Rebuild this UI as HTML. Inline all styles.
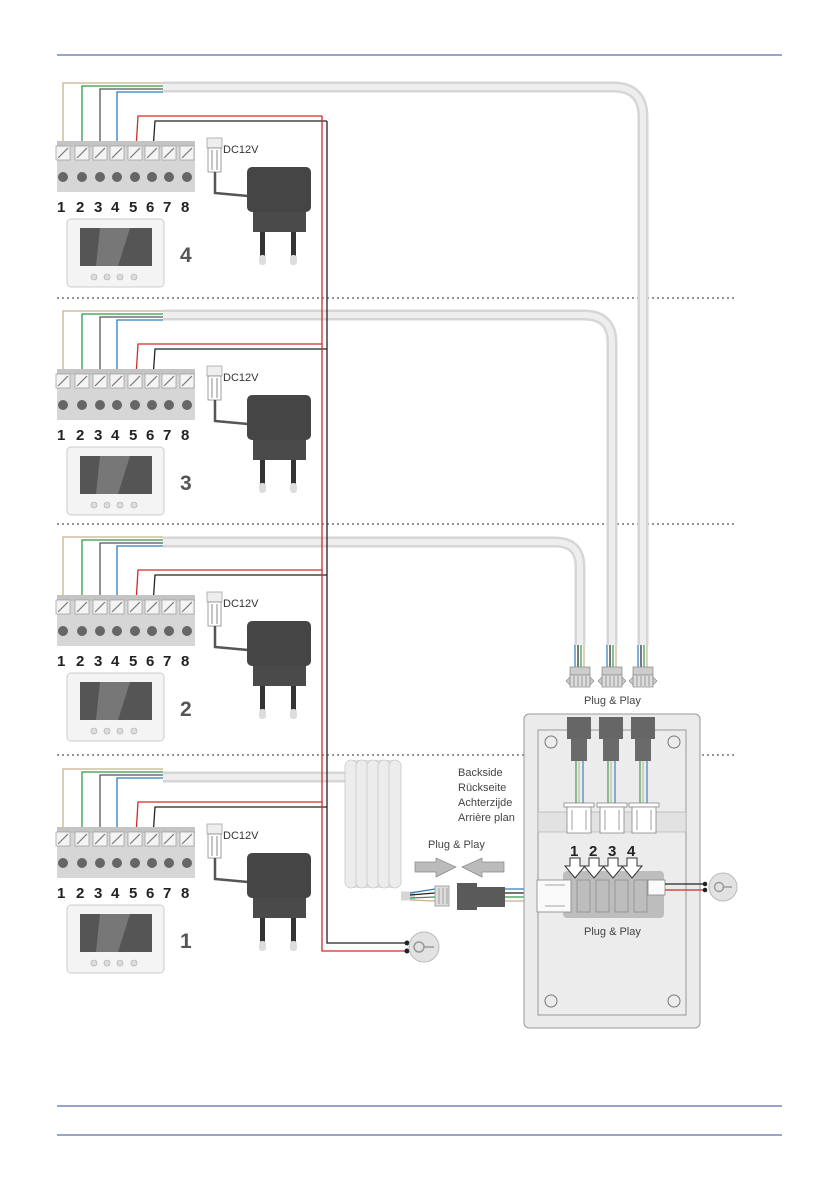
<!DOCTYPE html>
<html><head><meta charset="utf-8"><style>
html,body{margin:0;padding:0;background:#fff}
svg{display:block}
text{font-family:"Liberation Sans",sans-serif}
</style></head><body>
<svg width="839" height="1191" viewBox="0 0 839 1191" xmlns="http://www.w3.org/2000/svg">
<defs>
<g id="sec">
  <polyline points="63,160 63,83 163,83" fill="none" stroke="#c9b18f" stroke-width="1.3"/>
  <polyline points="82,160 82,86 163,86" fill="none" stroke="#2e9a4a" stroke-width="1.3"/>
  <polyline points="100,160 100,89 163,89" fill="none" stroke="#555" stroke-width="1.3"/>
  <polyline points="117,160 117,92 163,92" fill="none" stroke="#2a7cc0" stroke-width="1.3"/>
  <polyline points="135,165 138,116 322,116" fill="none" stroke="#d42a2a" stroke-width="1.3"/>
  <polyline points="152,165 155,121 327,121" fill="none" stroke="#222" stroke-width="1.3"/>
  <rect x="57" y="141" width="138" height="51" fill="#d6d6d6"/>
  <rect x="57" y="141" width="138" height="6" fill="#c4c4c4"/>
  <g fill="#f4f4f4" stroke="#999" stroke-width="0.7">
    <rect x="56" y="146" width="14" height="14"/><rect x="75" y="146" width="14" height="14"/>
    <rect x="93" y="146" width="14" height="14"/><rect x="110" y="146" width="14" height="14"/>
    <rect x="128" y="146" width="14" height="14"/><rect x="145" y="146" width="14" height="14"/>
    <rect x="162" y="146" width="14" height="14"/><rect x="180" y="146" width="14" height="14"/>
  </g>
  <g stroke="#777" stroke-width="1.2">
    <line x1="58" y1="158" x2="68" y2="148"/><line x1="77" y1="158" x2="87" y2="148"/>
    <line x1="95" y1="158" x2="105" y2="148"/><line x1="112" y1="158" x2="122" y2="148"/>
    <line x1="130" y1="158" x2="140" y2="148"/><line x1="147" y1="158" x2="157" y2="148"/>
    <line x1="164" y1="158" x2="174" y2="148"/><line x1="182" y1="158" x2="192" y2="148"/>
  </g>
  <g fill="#666">
    <circle cx="63" cy="177" r="5"/><circle cx="82" cy="177" r="5"/><circle cx="100" cy="177" r="5"/>
    <circle cx="117" cy="177" r="5"/><circle cx="135" cy="177" r="5"/><circle cx="152" cy="177" r="5"/>
    <circle cx="169" cy="177" r="5"/><circle cx="187" cy="177" r="5"/>
  </g>
  <g font-size="15" font-weight="bold" fill="#222">
    <text x="57" y="212">1</text><text x="76" y="212">2</text><text x="94" y="212">3</text>
    <text x="111" y="212">4</text><text x="129" y="212">5</text><text x="146" y="212">6</text>
    <text x="163" y="212">7</text><text x="181" y="212">8</text>
  </g>
  <rect x="67" y="219" width="97" height="68" rx="4" fill="#f4f4f4" stroke="#ccc"/>
  <rect x="80" y="228" width="72" height="38" fill="#555"/>
  <polygon points="100,228 130,228 118,266 96,266" fill="#777"/>
  <g fill="#ddd" stroke="#aaa" stroke-width="0.6">
    <circle cx="94" cy="277" r="3"/><circle cx="107" cy="277" r="3"/><circle cx="120" cy="277" r="3"/><circle cx="134" cy="277" r="3"/>
  </g>
  <rect x="207" y="138" width="15" height="10" fill="#eee" stroke="#999" stroke-width="0.7"/>
  <rect x="208" y="148" width="13" height="24" fill="#fff" stroke="#888" stroke-width="0.8"/>
  <line x1="212" y1="150" x2="212" y2="170" stroke="#888"/><line x1="217" y1="150" x2="217" y2="170" stroke="#888"/>
  <text x="223" y="153" font-size="11" fill="#333">DC12V</text>
  <polyline points="215,172 215,193 248,196" fill="none" stroke="#555" stroke-width="2.5"/>
  <rect x="247" y="167" width="64" height="45" rx="5" fill="#454545"/>
  <rect x="253" y="212" width="53" height="20" fill="#4a4a4a"/>
  <rect x="260" y="232" width="5" height="28" fill="#333"/><rect x="291" y="232" width="5" height="28" fill="#333"/>
  <rect x="259" y="255" width="7" height="10" rx="3" fill="#ddd"/><rect x="290" y="255" width="7" height="10" rx="3" fill="#ddd"/>
</g>
<g id="plug">
  <line x1="-5" y1="-22" x2="-5" y2="0" stroke="#2a7cc0" stroke-width="1.2"/>
  <line x1="-2" y1="-22" x2="-2" y2="0" stroke="#222" stroke-width="1.2"/>
  <line x1="1" y1="-22" x2="1" y2="0" stroke="#2e9a4a" stroke-width="1.2"/>
  <line x1="4" y1="-22" x2="4" y2="0" stroke="#c9b18f" stroke-width="1.2"/>
  <rect x="-10" y="0" width="20" height="8" fill="#ccc" stroke="#888" stroke-width="0.7"/>
  <rect x="-10" y="8" width="20" height="12" fill="#ddd" stroke="#888" stroke-width="0.7"/>
  <path d="M-6,9v10M-2,9v10M2,9v10M6,9v10" stroke="#888" stroke-width="0.8"/>
  <polygon points="-10,10 -14,14 -10,18" fill="#ccc" stroke="#888" stroke-width="0.6"/>
  <polygon points="10,10 14,14 10,18" fill="#ccc" stroke="#888" stroke-width="0.6"/>
</g>
</defs>

<line x1="57" y1="55" x2="782" y2="55" stroke="#3b4a9a" stroke-width="1"/>
<line x1="57" y1="1106" x2="782" y2="1106" stroke="#3b4a9a" stroke-width="1"/>
<line x1="57" y1="1135" x2="782" y2="1135" stroke="#3b4a9a" stroke-width="1"/>

<g stroke="#555" stroke-width="1.2" stroke-dasharray="2,3">
<line x1="57" y1="298" x2="737" y2="298"/><line x1="57" y1="524" x2="737" y2="524"/><line x1="57" y1="755" x2="737" y2="755"/>
</g>

<g fill="none" stroke-linecap="butt">
  <path d="M163,87 H613 Q643,87 643,117 V645" stroke="#d6d6d6" stroke-width="11"/>
  <path d="M163,87 H613 Q643,87 643,117 V645" stroke="#eeeeee" stroke-width="6"/>
  <path d="M163,315 H584 Q612,315 612,343 V645" stroke="#d6d6d6" stroke-width="11"/>
  <path d="M163,315 H584 Q612,315 612,343 V645" stroke="#eeeeee" stroke-width="6"/>
  <path d="M163,542 H555 Q580,542 580,567 V645" stroke="#d6d6d6" stroke-width="11"/>
  <path d="M163,542 H555 Q580,542 580,567 V645" stroke="#eeeeee" stroke-width="6"/>
  <path d="M163,777 H345" stroke="#d6d6d6" stroke-width="11"/>
  <path d="M163,777 H345" stroke="#eeeeee" stroke-width="6"/>
</g>

<use href="#sec"/>
<use href="#sec" y="228"/>
<use href="#sec" y="454"/>
<use href="#sec" y="686"/>

<g font-size="21" font-weight="bold" fill="#555">
<text x="180" y="262">4</text><text x="180" y="490">3</text><text x="180" y="716">2</text><text x="180" y="948">1</text>
</g>

<polyline points="322,116 322,951 408,951" fill="none" stroke="#d42a2a" stroke-width="1.3"/>
<polyline points="327,121 327,943 408,943" fill="none" stroke="#222" stroke-width="1.3"/>
<circle cx="407" cy="943" r="2.5" fill="#222"/><circle cx="407" cy="951" r="2.5" fill="#222"/>
<circle cx="424" cy="947" r="15" fill="#e2e2e2" stroke="#bbb"/>
<circle cx="419" cy="947" r="5" fill="none" stroke="#999" stroke-width="1.5"/>
<line x1="424" y1="947" x2="434" y2="947" stroke="#999" stroke-width="1.5"/>

<g>
  <rect x="345" y="760" width="56" height="128" rx="8" fill="#e0e0e0"/>
  <g fill="#ececec" stroke="#c8c8c8" stroke-width="0.8">
    <rect x="345" y="760" width="12" height="128" rx="6"/>
    <rect x="356" y="760" width="12" height="128" rx="6"/>
    <rect x="367" y="760" width="12" height="128" rx="6"/>
    <rect x="378" y="760" width="12" height="128" rx="6"/>
    <rect x="389" y="760" width="12" height="128" rx="6"/>
  </g>
</g>
<path d="M401,896 H415" stroke="#d6d6d6" stroke-width="9"/>
<g stroke-width="1.2">
<line x1="410" y1="893" x2="435" y2="889" stroke="#2a7cc0"/>
<line x1="410" y1="895" x2="435" y2="893" stroke="#222"/>
<line x1="410" y1="898" x2="435" y2="897" stroke="#2e9a4a"/>
<line x1="410" y1="900" x2="435" y2="901" stroke="#c9b18f"/>
</g>
<rect x="435" y="886" width="14" height="20" fill="#ddd" stroke="#888" stroke-width="0.7"/>
<path d="M439,888v16M443,888v16M447,888v16" stroke="#888" stroke-width="0.7"/>
<rect x="457" y="883" width="20" height="27" fill="#5a5a5a"/>
<rect x="477" y="887" width="28" height="20" fill="#5a5a5a"/>
<g stroke-width="1.2">
<line x1="505" y1="889" x2="540" y2="889" stroke="#2a7cc0"/>
<line x1="505" y1="893" x2="540" y2="893" stroke="#222"/>
<line x1="505" y1="897" x2="540" y2="897" stroke="#2e9a4a"/>
<line x1="505" y1="901" x2="540" y2="901" stroke="#c9b18f"/>
</g>
<text x="428" y="848" font-size="11" fill="#444">Plug &amp; Play</text>
<polygon points="415,862 436,862 436,858 456,867 436,877 436,872 415,872" fill="#bbb" stroke="#888" stroke-width="0.7"/>
<polygon points="504,862 482,862 482,858 462,867 482,877 482,872 504,872" fill="#bbb" stroke="#888" stroke-width="0.7"/>

<g font-size="11" fill="#444">
<text x="458" y="776">Backside</text><text x="458" y="791">Rückseite</text>
<text x="458" y="806">Achterzijde</text><text x="458" y="821">Arrière plan</text>
</g>

<use href="#plug" x="580" y="667"/>
<use href="#plug" x="612" y="667"/>
<use href="#plug" x="643" y="667"/>
<text x="584" y="704" font-size="11" fill="#444">Plug &amp; Play</text>

<rect x="524" y="714" width="176" height="314" rx="5" fill="#ebebeb" stroke="#999"/>
<rect x="538" y="730" width="148" height="285" fill="#ececec" stroke="#999"/>
<rect x="538" y="812" width="148" height="20" fill="#e2e2e2" stroke="#aaa" stroke-width="0.6"/>
<circle cx="551" cy="742" r="6" fill="none" stroke="#777"/><circle cx="674" cy="742" r="6" fill="none" stroke="#777"/>
<circle cx="551" cy="1001" r="6" fill="none" stroke="#777"/><circle cx="674" cy="1001" r="6" fill="none" stroke="#777"/>
<g>
  <rect x="567" y="717" width="24" height="22" fill="#666"/><rect x="571" y="739" width="16" height="22" fill="#6a6a6a"/>
  <rect x="599" y="717" width="24" height="22" fill="#666"/><rect x="603" y="739" width="16" height="22" fill="#6a6a6a"/>
  <rect x="631" y="717" width="24" height="22" fill="#666"/><rect x="635" y="739" width="16" height="22" fill="#6a6a6a"/>
</g>
<g stroke-width="1.1">
  <line x1="576" y1="761" x2="576" y2="803" stroke="#2e9a4a"/><line x1="579" y1="761" x2="579" y2="803" stroke="#c9b18f"/><line x1="583" y1="761" x2="583" y2="803" stroke="#2a7cc0"/>
  <line x1="608" y1="761" x2="608" y2="803" stroke="#2e9a4a"/><line x1="611" y1="761" x2="611" y2="803" stroke="#c9b18f"/><line x1="615" y1="761" x2="615" y2="803" stroke="#2a7cc0"/>
  <line x1="640" y1="761" x2="640" y2="803" stroke="#2e9a4a"/><line x1="643" y1="761" x2="643" y2="803" stroke="#c9b18f"/><line x1="647" y1="761" x2="647" y2="803" stroke="#2a7cc0"/>
</g>
<g fill="#fff" stroke="#888" stroke-width="0.8">
  <rect x="564" y="803" width="30" height="4"/><rect x="567" y="807" width="24" height="26"/>
  <rect x="597" y="803" width="30" height="4"/><rect x="600" y="807" width="24" height="26"/>
  <rect x="629" y="803" width="30" height="4"/><rect x="632" y="807" width="24" height="26"/>
</g>
<path d="M572,810v20M586,810v20M605,810v20M619,810v20M637,810v20M651,810v20" stroke="#888" stroke-width="0.8"/>
<rect x="563" y="871" width="101" height="47" rx="4" fill="#bdbdbd"/>
<rect x="537" y="880" width="34" height="32" fill="#fafafa" stroke="#888" stroke-width="0.8"/>
<path d="M545,885 h20 M545,906 h20" stroke="#888" stroke-width="0.8"/>
<g fill="none" stroke="#888" stroke-width="0.7">
  <rect x="577" y="880" width="13" height="32"/><rect x="596" y="880" width="13" height="32"/>
  <rect x="615" y="880" width="13" height="32"/><rect x="634" y="880" width="13" height="32"/>
</g>
<rect x="648" y="880" width="17" height="15" fill="#fafafa" stroke="#888" stroke-width="0.8"/>
<line x1="665" y1="884" x2="705" y2="884" stroke="#222" stroke-width="1.2"/>
<line x1="665" y1="890" x2="705" y2="890" stroke="#d42a2a" stroke-width="1.2"/>
<circle cx="705" cy="884" r="2.3" fill="#222"/><circle cx="705" cy="890" r="2.3" fill="#222"/>
<circle cx="723" cy="887" r="14" fill="#e2e2e2" stroke="#bbb"/>
<circle cx="719" cy="887" r="4.5" fill="none" stroke="#999" stroke-width="1.4"/>
<line x1="723" y1="887" x2="732" y2="887" stroke="#999" stroke-width="1.4"/>
<g font-size="15" font-weight="bold" fill="#222">
  <text x="570" y="856">1</text><text x="589" y="856">2</text><text x="608" y="856">3</text><text x="627" y="856">4</text>
</g>
<g fill="#fff" stroke="#333" stroke-width="1">
  <polygon points="570,858 580,858 580,866 585,866 575,878 565,866 570,866"/>
  <polygon points="589,858 599,858 599,866 604,866 594,878 584,866 589,866"/>
  <polygon points="608,858 618,858 618,866 623,866 613,878 603,866 608,866"/>
  <polygon points="627,858 637,858 637,866 642,866 632,878 622,866 627,866"/>
</g>
<text x="584" y="935" font-size="11" fill="#444">Plug &amp; Play</text>
</svg>
</body></html>
